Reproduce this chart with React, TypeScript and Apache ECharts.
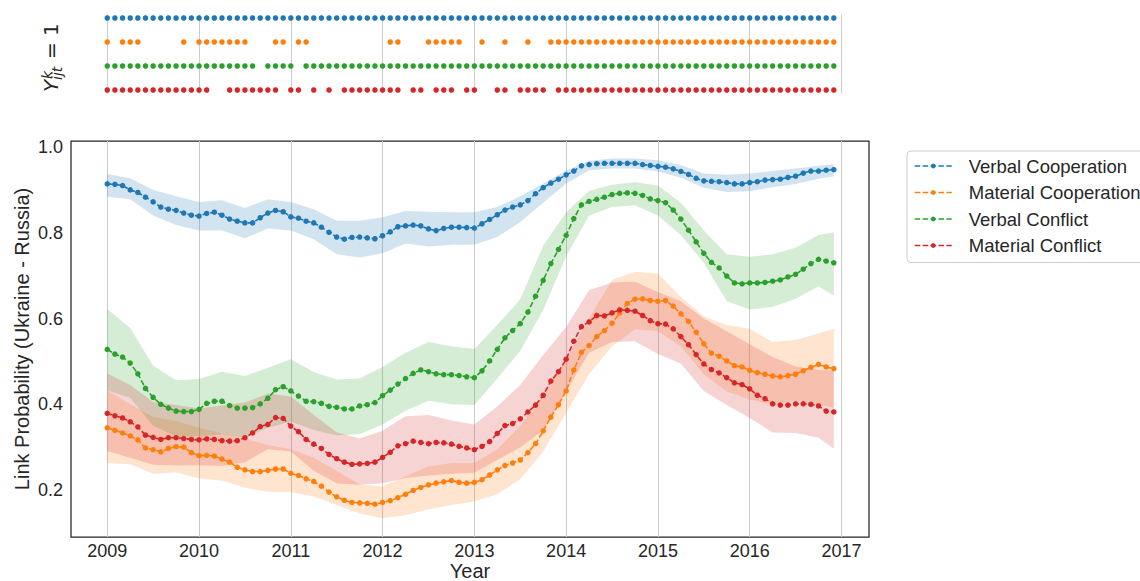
import React, { useEffect, useRef } from 'react';
import * as echarts from 'echarts';

const START_YEAR = 2009;
const X_MIN = 2008.605;
const X_MAX = 2017.3;
const Y_MIN = 0.0904;
const Y_MAX = 1.014;

const seriesNames = ['Verbal Cooperation', 'Material Cooperation', 'Verbal Conflict', 'Material Conflict'];
const colors = ['#1f77b4', '#ff7f0e', '#2ca02c', '#d62728'];

// Monthly link probabilities, Jan 2009 .. Dec 2016
const verbalCooperation = [
  0.914, 0.913, 0.910, 0.900, 0.894, 0.883, 0.872, 0.860, 0.855, 0.852, 0.846, 0.841,
  0.839, 0.845, 0.848, 0.841, 0.832, 0.827, 0.823, 0.823, 0.835, 0.846, 0.852, 0.849,
  0.837, 0.834, 0.827, 0.823, 0.813, 0.801, 0.790, 0.785, 0.789, 0.790, 0.788, 0.786,
  0.793, 0.802, 0.814, 0.816, 0.818, 0.816, 0.809, 0.805, 0.810, 0.813, 0.813, 0.812,
  0.811, 0.821, 0.831, 0.842, 0.853, 0.860, 0.865, 0.875, 0.891, 0.905, 0.916, 0.925,
  0.935, 0.944, 0.956, 0.959, 0.961, 0.962, 0.962, 0.962, 0.962, 0.962, 0.959, 0.957,
  0.955, 0.953, 0.949, 0.943, 0.936, 0.927, 0.921, 0.920, 0.919, 0.917, 0.914, 0.914,
  0.917, 0.919, 0.923, 0.924, 0.925, 0.929, 0.932, 0.939, 0.944, 0.944, 0.946, 0.947,
];
const materialCooperation = [
  0.345, 0.339, 0.333, 0.326, 0.317, 0.298, 0.294, 0.289, 0.297, 0.301, 0.300, 0.287,
  0.280, 0.281, 0.279, 0.272, 0.265, 0.253, 0.247, 0.243, 0.243, 0.246, 0.249, 0.249,
  0.239, 0.234, 0.226, 0.220, 0.209, 0.195, 0.184, 0.176, 0.171, 0.170, 0.169, 0.167,
  0.171, 0.175, 0.182, 0.190, 0.199, 0.206, 0.212, 0.216, 0.219, 0.222, 0.218, 0.216,
  0.218, 0.224, 0.235, 0.247, 0.257, 0.263, 0.270, 0.287, 0.308, 0.338, 0.370, 0.399,
  0.431, 0.480, 0.521, 0.537, 0.558, 0.572, 0.589, 0.613, 0.635, 0.645, 0.646, 0.642,
  0.640, 0.642, 0.629, 0.611, 0.593, 0.568, 0.541, 0.519, 0.512, 0.501, 0.490, 0.487,
  0.479, 0.474, 0.470, 0.466, 0.464, 0.467, 0.470, 0.478, 0.486, 0.493, 0.487, 0.483,
];
const verbalConflict = [
  0.528, 0.517, 0.510, 0.496, 0.471, 0.437, 0.416, 0.400, 0.391, 0.384, 0.383, 0.383,
  0.388, 0.402, 0.407, 0.407, 0.397, 0.391, 0.391, 0.392, 0.401, 0.414, 0.434, 0.441,
  0.431, 0.419, 0.407, 0.406, 0.402, 0.395, 0.393, 0.389, 0.389, 0.396, 0.399, 0.404,
  0.420, 0.433, 0.447, 0.460, 0.472, 0.480, 0.476, 0.471, 0.469, 0.469, 0.467, 0.464,
  0.462, 0.478, 0.501, 0.528, 0.555, 0.572, 0.588, 0.615, 0.652, 0.689, 0.728, 0.761,
  0.794, 0.833, 0.865, 0.873, 0.878, 0.883, 0.889, 0.892, 0.893, 0.892, 0.887, 0.879,
  0.875, 0.870, 0.853, 0.832, 0.806, 0.779, 0.752, 0.731, 0.718, 0.699, 0.683, 0.681,
  0.683, 0.683, 0.684, 0.687, 0.690, 0.697, 0.703, 0.715, 0.728, 0.738, 0.734, 0.730,
];
const materialConflict = [
  0.379, 0.373, 0.368, 0.359, 0.347, 0.328, 0.323, 0.318, 0.322, 0.322, 0.320, 0.318,
  0.317, 0.319, 0.318, 0.315, 0.314, 0.315, 0.322, 0.333, 0.348, 0.353, 0.369, 0.367,
  0.349, 0.336, 0.318, 0.307, 0.297, 0.283, 0.273, 0.265, 0.260, 0.261, 0.262, 0.265,
  0.276, 0.288, 0.303, 0.308, 0.314, 0.311, 0.308, 0.311, 0.310, 0.307, 0.302, 0.298,
  0.294, 0.302, 0.313, 0.332, 0.350, 0.355, 0.366, 0.382, 0.398, 0.421, 0.454, 0.476,
  0.505, 0.547, 0.581, 0.592, 0.607, 0.606, 0.613, 0.620, 0.619, 0.617, 0.607, 0.595,
  0.588, 0.587, 0.576, 0.558, 0.539, 0.516, 0.494, 0.481, 0.473, 0.462, 0.450, 0.446,
  0.436, 0.421, 0.413, 0.401, 0.398, 0.398, 0.401, 0.401, 0.400, 0.396, 0.384, 0.382,
];

// Credible band edges, sampled every 3 months
const bandMonths = [0, 3, 6, 9, 12, 15, 18, 21, 24, 27, 30, 33, 36, 39, 42, 45, 48, 51, 54, 57, 60, 63, 66, 69, 72, 75, 78, 81, 84, 87, 90, 93, 95];
const verbalCoopUpper = [0.937, 0.927, 0.900, 0.885, 0.872, 0.876, 0.858, 0.878, 0.872, 0.855, 0.828, 0.828, 0.836, 0.851, 0.849, 0.848, 0.848, 0.860, 0.885, 0.915, 0.945, 0.968, 0.973, 0.973, 0.969, 0.958, 0.938, 0.935, 0.938, 0.944, 0.950, 0.956, 0.960];
const verbalCoopLower = [0.884, 0.878, 0.840, 0.818, 0.805, 0.805, 0.787, 0.810, 0.805, 0.785, 0.750, 0.742, 0.752, 0.775, 0.768, 0.772, 0.772, 0.790, 0.825, 0.870, 0.915, 0.946, 0.950, 0.950, 0.943, 0.928, 0.905, 0.895, 0.897, 0.906, 0.914, 0.926, 0.932];
const materialCoopUpper = [0.432, 0.400, 0.370, 0.361, 0.345, 0.332, 0.320, 0.305, 0.295, 0.275, 0.245, 0.213, 0.209, 0.232, 0.255, 0.263, 0.263, 0.295, 0.350, 0.420, 0.505, 0.600, 0.690, 0.709, 0.705, 0.650, 0.605, 0.585, 0.576, 0.545, 0.550, 0.565, 0.576];
const materialCoopLower = [0.263, 0.260, 0.238, 0.241, 0.227, 0.222, 0.205, 0.196, 0.195, 0.185, 0.165, 0.145, 0.134, 0.141, 0.155, 0.165, 0.173, 0.190, 0.225, 0.290, 0.380, 0.470, 0.535, 0.575, 0.570, 0.535, 0.470, 0.430, 0.411, 0.399, 0.408, 0.400, 0.392];
const verbalConfUpper = [0.622, 0.578, 0.490, 0.456, 0.459, 0.476, 0.466, 0.485, 0.505, 0.475, 0.458, 0.460, 0.487, 0.520, 0.545, 0.535, 0.529, 0.585, 0.645, 0.770, 0.848, 0.898, 0.912, 0.918, 0.910, 0.870, 0.805, 0.750, 0.744, 0.750, 0.765, 0.795, 0.801];
const verbalConfLower = [0.432, 0.415, 0.350, 0.325, 0.325, 0.330, 0.322, 0.345, 0.360, 0.340, 0.328, 0.330, 0.353, 0.385, 0.408, 0.400, 0.398, 0.460, 0.525, 0.620, 0.745, 0.840, 0.860, 0.864, 0.840, 0.795, 0.730, 0.640, 0.621, 0.627, 0.646, 0.675, 0.653];
const materialConfUpper = [0.472, 0.445, 0.405, 0.398, 0.390, 0.397, 0.404, 0.425, 0.418, 0.375, 0.335, 0.320, 0.338, 0.372, 0.375, 0.362, 0.353, 0.395, 0.445, 0.515, 0.580, 0.666, 0.684, 0.686, 0.662, 0.640, 0.600, 0.570, 0.540, 0.510, 0.488, 0.480, 0.478];
const materialConfLower = [0.291, 0.275, 0.259, 0.257, 0.258, 0.256, 0.265, 0.295, 0.290, 0.245, 0.216, 0.212, 0.216, 0.228, 0.234, 0.238, 0.240, 0.270, 0.300, 0.340, 0.430, 0.520, 0.545, 0.547, 0.517, 0.495, 0.431, 0.398, 0.368, 0.334, 0.333, 0.322, 0.296];

// Months with Y = 1 (one string of 12 flags per year, 2009..2016)
const verbalCoopFlags = ['111111111111', '111111111111', '111111111111', '111111111111', '111111111111', '111111111111', '111111111111', '111111111111'];
const materialCoopFlags = ['101110000010', '111111100011', '011000000000', '011000111110', '010010010011', '111111111111', '111111111111', '111111111111'];
const verbalConfFlags = ['111111111111', '111111110111', '101111111111', '111111111111', '111111111111', '111111111111', '111111111111', '111111111111'];
const materialConfFlags = ['111111111111', '110011111110', '110101011111', '111011011101', '100110111101', '111111111111', '111111111111', '111111111111'];

const lineValues = [verbalCooperation, materialCooperation, verbalConflict, materialConflict];
const bandUpper = [verbalCoopUpper, materialCoopUpper, verbalConfUpper, materialConfUpper];
const bandLower = [verbalCoopLower, materialCoopLower, verbalConfLower, materialConfLower];
const flagRows = [verbalCoopFlags, materialCoopFlags, verbalConfFlags, materialConfFlags];

const TEXT = '#262626';
const FONT = 'Liberation Sans';
const monthX = (m: number) => START_YEAR + m / 12;
const rgba = (hex: string, a: number) => {
  const n = parseInt(hex.slice(1), 16);
  return `rgba(${(n >> 16) & 255},${(n >> 8) & 255},${n & 255},${a})`;
};

function buildOption(): any {
  const series: any[] = [];
  // top panel: indicator dots
  flagRows.forEach((rows, k) => {
    const flags = rows.join('');
    const data: number[][] = [];
    for (let i = 0; i < flags.length; i++) if (flags[i] === '1') data.push([monthX(i), k]);
    series.push({
      type: 'scatter', name: 'ind-' + k, xAxisIndex: 0, yAxisIndex: 0,
      data, symbol: 'circle', symbolSize: 5.5, itemStyle: { color: colors[k], opacity: 1 }, silent: true,
    });
  });
  // bands (polygon between lower and upper edges)
  bandUpper.forEach((up, k) => {
    const lo = bandLower[k];
    const data = bandMonths.map((m, i) => [monthX(m), lo[i], up[i]]);
    series.push({
      type: 'custom', name: 'band-' + k, xAxisIndex: 1, yAxisIndex: 1, silent: true, z: 1,
      data,
      encode: { x: 0, y: [1, 2] },
      renderItem: (params: any, api: any) => {
        if (params.dataIndex !== 0) return { type: 'group', children: [] };
        const top = data.map((d) => api.coord([d[0], d[2]]));
        const bot = data.map((d) => api.coord([d[0], d[1]])).reverse();
        return {
          type: 'polygon',
          shape: { points: top.concat(bot) },
          style: { fill: rgba(colors[k], 0.2), stroke: 'none' },
        };
      },
    });
  });
  // lines
  lineValues.forEach((vals, k) => {
    series.push({
      type: 'line', name: seriesNames[k], xAxisIndex: 1, yAxisIndex: 1,
      data: vals.map((v, i) => [monthX(i), v]),
      symbol: 'circle', symbolSize: 5.5, showSymbol: true,
      lineStyle: { color: colors[k], width: 1.6, type: [5.5, 2.4] },
      itemStyle: { color: colors[k] }, z: 3,
    });
  });

  const xCommon = {
    type: 'value', min: X_MIN, max: X_MAX, minInterval: 1, maxInterval: 1,
    axisLine: { show: false }, axisTick: { show: false },
    splitLine: { show: true, showMinLine: false, showMaxLine: false, lineStyle: { color: '#cccccc', width: 1 } },
  };

  return {
    animation: false,
    textStyle: { fontFamily: FONT },
    grid: [
      { left: 71, width: 798, top: 14.4, height: 79.2, show: false, outerBoundsMode: 'none', containLabel: false },
      { left: 71, width: 798, top: 141, height: 396, show: true, borderColor: TEXT, borderWidth: 1.25, backgroundColor: 'transparent', outerBoundsMode: 'none', containLabel: false },
    ],
    xAxis: [
      { ...xCommon, gridIndex: 0, axisLabel: { show: false } },
      {
        ...xCommon, gridIndex: 1,
        axisLabel: {
          show: true, fontSize: 18, lineHeight: 18, color: TEXT, fontFamily: FONT, margin: 5,
          showMinLabel: false, showMaxLabel: false,
          formatter: (v: number) => (Math.abs(v - Math.round(v)) < 1e-6 ? String(Math.round(v)) : ''),
        },
        name: 'Year', nameLocation: 'middle', nameGap: 25, nameMoveOverlap: false,
        nameTextStyle: { fontSize: 20, lineHeight: 18, color: TEXT, fontFamily: FONT },
      },
    ],
    yAxis: [
      { gridIndex: 0, type: 'value', min: -0.15, max: 3.15, inverse: true, show: false },
      {
        gridIndex: 1, type: 'value', min: Y_MIN, max: Y_MAX, minInterval: 0.2, maxInterval: 0.2,
        axisLine: { show: false }, axisTick: { show: false }, splitLine: { show: false },
        axisLabel: {
          fontSize: 18, color: TEXT, fontFamily: FONT, margin: 8,
          showMinLabel: false, showMaxLabel: false,
          formatter: (v: number) => (Math.abs(v * 5 - Math.round(v * 5)) < 1e-6 ? v.toFixed(1) : ''),
        },
        name: 'Link Probability (Ukraine - Russia)', nameLocation: 'middle', nameGap: 39, nameRotate: 90, nameMoveOverlap: false,
        nameTextStyle: { fontSize: 20, color: TEXT, fontFamily: FONT },
      },
    ],
    legend: {
      data: seriesNames, orient: 'vertical', left: 907, top: 151,
      itemWidth: 37, itemHeight: 6, itemGap: 6.5,
      lineStyle: { width: 1.5, type: [5.5, 2.4] },
      textStyle: { fontSize: 18.5, color: TEXT, fontFamily: FONT, padding: [0, 0, 0, 12], lineHeight: 20 },
      borderColor: '#cccccc', borderWidth: 1, borderRadius: 4, padding: [5, 24, 7, 7],
      backgroundColor: '#ffffff', selectedMode: false,
    },
    graphic: [
      {
        type: 'group', x: 50, y: 92, rotation: Math.PI / 2, silent: true,
        children: [
          { type: 'text', x: 0, y: 1, style: { text: 'Y', fontSize: 20, fontStyle: 'italic', fontFamily: 'DejaVu Sans', fill: TEXT, align: 'left', verticalAlign: 'middle' } },
          { type: 'text', x: 13, y: -3, style: { text: 'k', fontSize: 14, fontStyle: 'italic', fontFamily: 'DejaVu Sans', fill: TEXT, align: 'left', verticalAlign: 'middle' } },
          { type: 'text', x: 12, y: 7, style: { text: 'ijt', fontSize: 14, fontStyle: 'italic', fontFamily: 'DejaVu Sans', fill: TEXT, align: 'left', verticalAlign: 'middle' } },
          { type: 'text', x: 33, y: 1, style: { text: '= 1', fontSize: 20, fontFamily: 'DejaVu Sans', fill: TEXT, align: 'left', verticalAlign: 'middle' } },
        ],
      },
    ],
    series,
  };
}

export default function App() {
  const ref = useRef<HTMLDivElement>(null);
  useEffect(() => {
    if (!ref.current) return;
    const chart = echarts.init(ref.current, undefined, { renderer: 'svg' });
    chart.setOption(buildOption());
    return () => chart.dispose();
  }, []);
  return (
    <div
      ref={ref}
      style={{ position: 'fixed', left: 0, top: 0, width: 1140, height: 581, background: '#ffffff' }}
    />
  );
}
